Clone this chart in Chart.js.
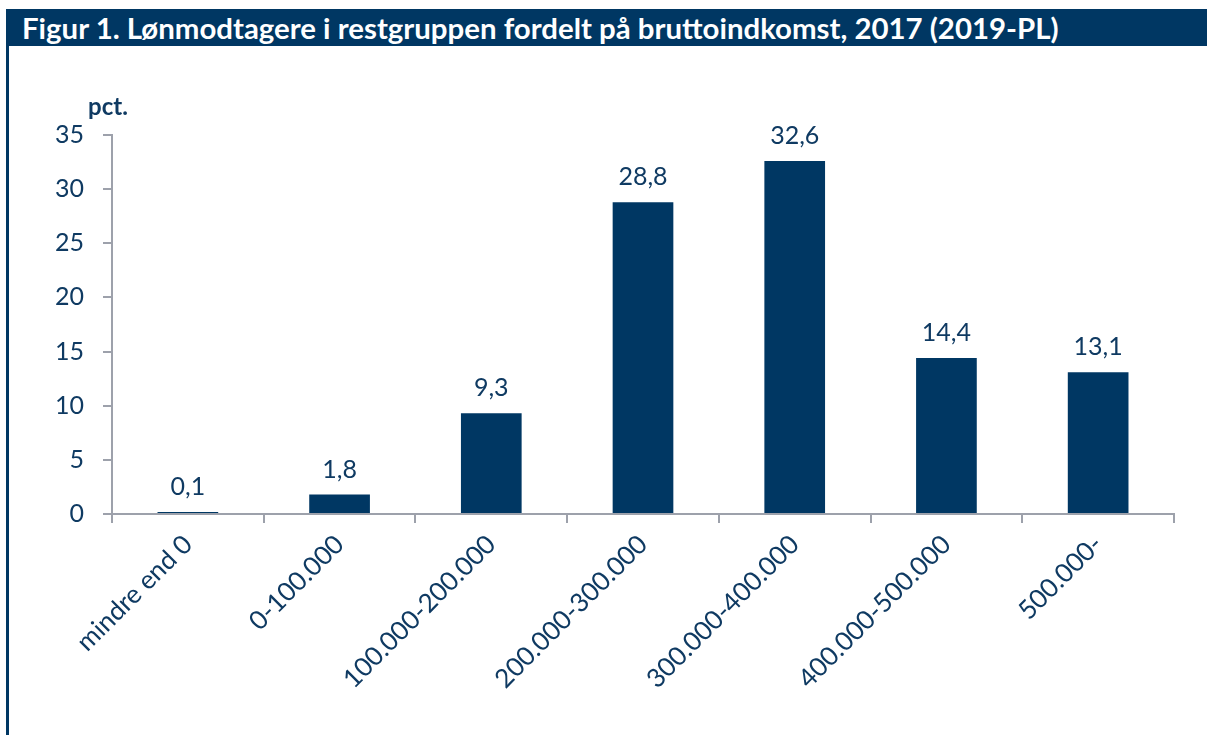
<!DOCTYPE html>
<html>
<head>
<meta charset="utf-8">
<script src="https://cdn.jsdelivr.net/npm/chart.js@4/dist/chart.umd.min.js"></script>
<style>
    html, body { margin: 0; padding: 0; background: #fff; }
    body { width: 1207px; height: 735px; position: relative; overflow: hidden; font-family: Lato, "Open Sans", sans-serif; }
    #title {
        position: absolute; left: 6px; top: 9px; width: 1201px; height: 37px;
        background: #003763; color: #fff; font-weight: bold; font-size: 29.4px;
        line-height: 38px; padding-left: 16px; box-sizing: border-box; white-space: nowrap;
    }
    #border { position: absolute; left: 6px; top: 9px; width: 3px; height: 726px; background: #003763; }
    #unit { position: absolute; left: 88px; top: 91px; font-size: 24px; font-weight: bold; color: #0f3a62; }
    #wrap { position: absolute; left: 0; top: 0; width: 1207px; height: 735px; }
</style>
</head>
<body>
<div id="wrap"><canvas id="chart" width="1207" height="735"></canvas></div>
<div id="border"></div>
<div id="title">Figur 1. Lønmodtagere i restgruppen fordelt på bruttoindkomst, 2017 (2019-PL)</div>
<div id="unit">pct.</div>
<script>
    const categories = ["mindre end 0", "0-100.000", "100.000-200.000", "200.000-300.000", "300.000-400.000", "400.000-500.000", "500.000-"];
    const shares = [0.1, 1.8, 9.3, 28.8, 32.6, 14.4, 13.1];
    const yTicks = [0, 5, 10, 15, 20, 25, 30, 35];

    const navy = "#003763";
    const textColor = "#0f3a62";
    const axisColor = "#9da1ab";

    // data labels above the bars, with comma decimals
    const valueLabels = {
        id: "valueLabels",
        afterDatasetsDraw(chart) {
            const ctx = chart.ctx;
            const meta = chart.getDatasetMeta(0);
            ctx.save();
            ctx.font = "25px Lato";
            ctx.fillStyle = textColor;
            ctx.textAlign = "center";
            ctx.textBaseline = "alphabetic";
            meta.data.forEach((bar, i) => {
                const txt = shares[i].toFixed(1).replace(".", ",");
                ctx.fillText(txt, bar.x, bar.y - 17);
            });
            ctx.restore();
        }
    };

    new Chart(document.getElementById("chart"), {
        type: "bar",
        data: {
            labels: categories,
            datasets: [{
                data: shares,
                backgroundColor: navy,
                borderWidth: 0,
                barPercentage: 0.4,
                categoryPercentage: 1,
                minBarLength: 2
            }]
        },
        options: {
            responsive: false,
            animation: false,
            layout: { padding: { top: 135, right: 33, left: 0, bottom: 0 } },
            plugins: { legend: { display: false }, tooltip: { enabled: false } },
            scales: {
                x: {
                    offset: true,
                    grid: { offset: true, drawOnChartArea: false, color: axisColor, tickLength: 9, lineWidth: 2 },
                    border: { color: axisColor, width: 2, z: -1 },
                    ticks: {
                        color: textColor, font: { family: "Lato", size: 26 },
                        minRotation: 45, maxRotation: 45, autoSkip: false, padding: 6
                    },
                    afterFit: (scale) => { scale.height = 221; }
                },
                y: {
                    min: 0, max: 35,
                    afterBuildTicks: (scale) => { scale.ticks = yTicks.map(v => ({ value: v })); },
                    grid: { drawOnChartArea: false, color: axisColor, tickLength: 9, lineWidth: 2 },
                    border: { color: axisColor, width: 2 },
                    ticks: { color: textColor, font: { family: "Lato", size: 25 }, padding: 19 },
                    afterFit: (scale) => { scale.width = 112; }
                }
            }
        },
        plugins: [valueLabels]
    });
</script>
</body>
</html>
